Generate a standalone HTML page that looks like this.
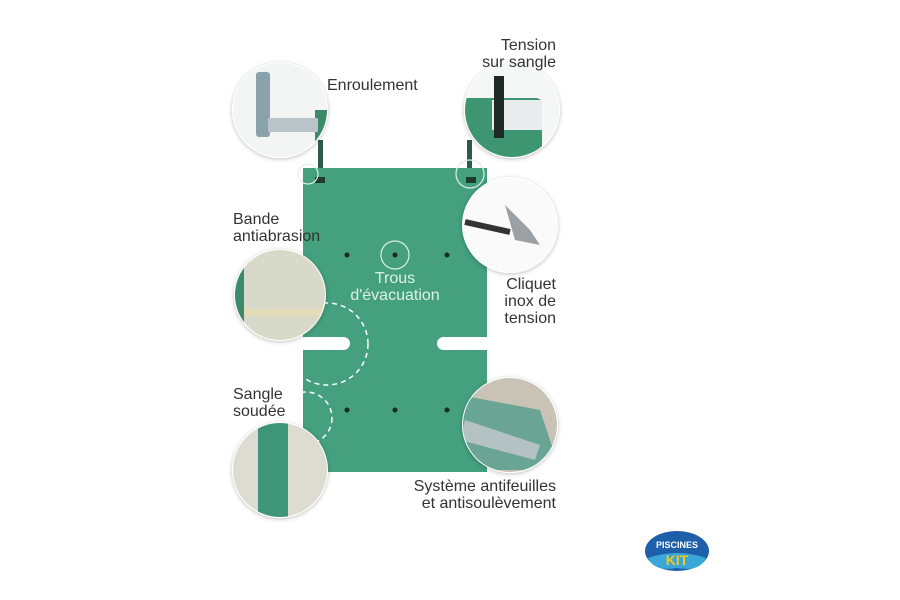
<!DOCTYPE html>
<html><head><meta charset="utf-8"><style>
body{margin:0;width:900px;height:600px;background:#fff;overflow:hidden;font-family:"Liberation Sans",sans-serif}
.t{position:absolute;color:#333;font-size:16px;line-height:17px}
</style></head><body>
<svg width="900" height="600" style="position:absolute;left:0;top:0">
<defs>
<filter id="sh" x="-20%" y="-20%" width="140%" height="140%"><feDropShadow dx="0" dy="1" stdDeviation="2" flood-color="#000" flood-opacity="0.25"/></filter>
<clipPath id="c1"><circle cx="280" cy="110" r="47"/></clipPath>
<clipPath id="c2"><circle cx="512" cy="110" r="47"/></clipPath>
<clipPath id="c3"><circle cx="510" cy="225" r="47"/></clipPath>
<clipPath id="c4"><circle cx="280" cy="295" r="45"/></clipPath>
<clipPath id="c5"><circle cx="280" cy="470" r="47"/></clipPath>
<clipPath id="c6"><circle cx="510" cy="425" r="47"/></clipPath>
</defs>
<rect x="318" y="140" width="5" height="40" fill="#2e5a48"/>
<rect x="467" y="140" width="5" height="40" fill="#2e5a48"/>
<rect x="303" y="168" width="184" height="304" fill="#44a07f"/>
<rect x="315" y="177" width="10" height="6" fill="#1f3a30"/>
<rect x="466" y="177" width="10" height="6" fill="#1f3a30"/>
<circle cx="308" cy="174" r="10" fill="none" stroke="#e0eee8" stroke-width="1.2"/>
<circle cx="470" cy="174" r="14" fill="none" stroke="#e0eee8" stroke-width="1.2"/>
<circle cx="395" cy="255" r="14" fill="none" stroke="#e0eee8" stroke-width="1.2"/>
<g fill="#1a2a24"><circle cx="347" cy="255" r="2.5"/><circle cx="395" cy="255" r="2.5"/><circle cx="447" cy="255" r="2.5"/><circle cx="347" cy="410" r="2.5"/><circle cx="395" cy="410" r="2.5"/><circle cx="447" cy="410" r="2.5"/></g>
<rect x="298" y="337" width="52" height="13" rx="6.5" fill="#fff"/>
<rect x="437" y="337" width="55" height="13" rx="6.5" fill="#fff"/>
<circle cx="327" cy="344" r="41" fill="none" stroke="#fff" stroke-width="1.5" stroke-dasharray="5 4"/>
<circle cx="306" cy="418" r="26" fill="none" stroke="#fff" stroke-width="1.5" stroke-dasharray="5 4"/>
<g filter="url(#sh)">
<circle cx="280" cy="110" r="48" fill="#fff"/>
<circle cx="512" cy="110" r="48" fill="#fff"/>
<circle cx="510" cy="225" r="48" fill="#fff"/>
<circle cx="280" cy="295" r="46" fill="#fff"/>
<circle cx="280" cy="470" r="48" fill="#fff"/>
<circle cx="510" cy="425" r="48" fill="#fff"/>
</g>
<g clip-path="url(#c1)"><rect x="230" y="60" width="100" height="100" fill="#f3f4f4"/>
<rect x="315" y="110" width="12" height="50" fill="#3d8a6a"/>
<rect x="256" y="72" width="14" height="65" rx="3" fill="#8aa2ac"/>
<rect x="268" y="118" width="50" height="14" fill="#b9c4c8"/></g>
<g clip-path="url(#c2)"><rect x="462" y="60" width="100" height="100" fill="#f5f6f6"/>
<rect x="462" y="98" width="80" height="70" rx="6" fill="#3e9572"/>
<rect x="492" y="100" width="50" height="30" fill="#e8ecec"/>
<rect x="494" y="76" width="10" height="62" fill="#1f2a27"/></g>
<g clip-path="url(#c3)"><rect x="460" y="175" width="100" height="100" fill="#fafafa"/>
<path d="M465 222 L510 232" stroke="#333" stroke-width="6"/>
<path d="M505 205 L530 230 L540 245 L515 240 Z" fill="#9aa0a3"/></g>
<g clip-path="url(#c4)"><rect x="234" y="249" width="92" height="92" fill="#d7d9c9"/>
<rect x="234" y="249" width="10" height="92" fill="#3b8a6c"/>
<rect x="244" y="309" width="80" height="7" fill="#e4dcb8"/></g>
<g clip-path="url(#c5)"><rect x="230" y="420" width="100" height="100" fill="#dcdcd0"/>
<rect x="258" y="420" width="30" height="100" fill="#3e9578"/></g>
<g clip-path="url(#c6)"><rect x="460" y="375" width="100" height="100" fill="#c9c3b6"/>
<path d="M460 395 L540 410 L560 470 L460 470 Z" fill="#6aa494"/>
<path d="M465 420 L540 445 L535 460 L460 440 Z" fill="#b4c2c4"/></g>
<ellipse cx="677" cy="551" rx="32" ry="20" fill="#1d5fa8"/>
<path d="M648 558 Q677 548 706 558 Q700 572 677 568 Q654 572 648 558Z" fill="#3aa7d8"/>
<text x="677" y="548" font-family="Liberation Sans" font-size="9" font-weight="bold" fill="#fff" text-anchor="middle">PISCINES</text>
<text x="677" y="565" font-family="Liberation Sans" font-size="14" font-weight="bold" fill="#f2c91e" text-anchor="middle">KIT</text>
</svg>
<div class="t" style="left:327px;top:77px">Enroulement</div>
<div class="t" style="left:460px;top:37px;width:96px;text-align:right">Tension<br>sur sangle</div>
<div class="t" style="left:233px;top:211px">Bande<br>antiabrasion</div>
<div class="t" style="left:340px;top:270px;width:110px;text-align:center;color:#dff0ea">Trous<br>d'évacuation</div>
<div class="t" style="left:470px;top:276px;width:86px;text-align:right">Cliquet<br>inox de<br>tension</div>
<div class="t" style="left:233px;top:386px">Sangle<br>soudée</div>
<div class="t" style="left:360px;top:478px;width:196px;text-align:right">Système antifeuilles<br>et antisoulèvement</div>
</body></html>
